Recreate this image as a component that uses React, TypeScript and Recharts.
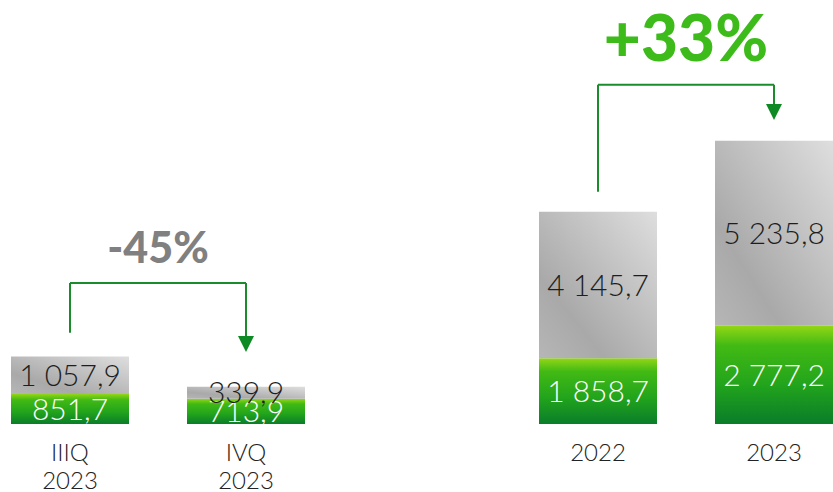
import { BarChart, Bar, XAxis, YAxis, LabelList, ReferenceLine, ReferenceDot, Label } from 'recharts';

// periods (blank entry = gap between quarterly and annual groups)
const periods = ['IIIQ 2023', 'IVQ 2023', ' ', '2022', '2023'];
const greenValues = [851.7, 713.9, null, 1858.7, 2777.2];
const grayValues = [1057.9, 339.9, null, 4145.7, 5235.8];

// change annotations
const quarterChange = '-45%';
const yearChange = '+33%';
// annotation bracket heights, in value units
const qBracket = { start: 2580, top: 3990, end: 2460 };
const yBracket = { start: 6570, top: 9600, end: 9030 };

const data = periods.map((p, i) => ({ period: p, green: greenValues[i], gray: grayValues[i] }));

const fmt = (v: any) => {
  if (v == null) return '';
  const [int, dec] = Number(v).toFixed(1).split('.');
  return int.replace(/\B(?=(\d{3})+(?!\d))/g, ' ') + ',' + dec;
};

const FONT = 'Lato, "Open Sans", sans-serif';
const ARROW = '#1a8c2c';

function PeriodTick({ x, y, payload }: any) {
  const parts = String(payload.value).trim().split(' ');
  if (!parts[0]) return null;
  return (
    <text x={x} y={y} textAnchor="middle" fontFamily={FONT} fontWeight={300} fontSize={24} fill="#222">
      {parts.map((t, i) => (
        <tspan key={i} x={x} dy={i === 0 ? 29 : 28}>{t}</tspan>
      ))}
    </text>
  );
}

function ArrowHead({ cx, cy }: any) {
  return <path d={`M${cx - 8},${cy - 1} L${cx + 8},${cy - 1} L${cx},${cy + 15} Z`} fill="#0e8a25" />;
}

export default function App() {
  return (
    <div style={{ position: 'absolute', left: 0, top: 0, width: 833, height: 492, overflow: 'hidden', background: '#fff' }}>
      <div style={{ position: 'absolute', left: -18, top: 0 }}>
        <BarChart width={880} height={492} data={data} margin={{ top: 0, right: 0, bottom: 0, left: 0 }}>
          <defs>
            <linearGradient id="greenFill" x1="0" y1="0" x2="0" y2="1">
              <stop offset="0%" stopColor="#93d616" />
              <stop offset="20%" stopColor="#42ba14" />
              <stop offset="60%" stopColor="#22a41c" />
              <stop offset="100%" stopColor="#0a7d2a" />
            </linearGradient>
            <linearGradient id="grayFill" x1="1" y1="0" x2="0" y2="1">
              <stop offset="0%" stopColor="#dedede" />
              <stop offset="72%" stopColor="#a9a9a9" />
              <stop offset="100%" stopColor="#b6b6b6" />
            </linearGradient>
          </defs>
          <XAxis dataKey="period" axisLine={false} tickLine={false} height={68} interval={0} tick={<PeriodTick />} />
          <YAxis hide domain={[0, 12000]} />
          <Bar dataKey="green" stackId="a" fill="url(#greenFill)" barSize={118} isAnimationActive={false}>
            <LabelList dataKey="green" position="center" formatter={fmt} fill="#fff" fontFamily={FONT} fontWeight={300} fontSize={30} />
          </Bar>
          <Bar dataKey="gray" stackId="a" fill="url(#grayFill)" barSize={118} isAnimationActive={false}>
            <LabelList dataKey="gray" position="center" formatter={fmt} fill="#1e1e1e" fontFamily={FONT} fontWeight={300} fontSize={30} />
          </Bar>

          {/* quarter bracket */}
          <ReferenceLine segment={[{ x: periods[0], y: qBracket.start }, { x: periods[0], y: qBracket.top }]} stroke={ARROW} strokeWidth={2} />
          <ReferenceLine segment={[{ x: periods[0], y: qBracket.top }, { x: periods[1], y: qBracket.top }]} stroke={ARROW} strokeWidth={2}>
            <Label value={quarterChange} position="top" offset={20} fill="#808080" fontFamily={FONT} fontWeight={900} fontSize={43} />
          </ReferenceLine>
          <ReferenceLine segment={[{ x: periods[1], y: qBracket.top }, { x: periods[1], y: qBracket.end }]} stroke={ARROW} strokeWidth={2} />
          <ReferenceDot x={periods[1]} y={qBracket.end} shape={<ArrowHead />} />

          {/* annual bracket */}
          <ReferenceLine segment={[{ x: periods[3], y: yBracket.start }, { x: periods[3], y: yBracket.top }]} stroke={ARROW} strokeWidth={2} />
          <ReferenceLine segment={[{ x: periods[3], y: yBracket.top }, { x: periods[4], y: yBracket.top }]} stroke={ARROW} strokeWidth={2}>
            <Label value={yearChange} position="top" offset={24} fill="#3dbb1a" fontFamily={FONT} fontWeight={900} fontSize={64} />
          </ReferenceLine>
          <ReferenceLine segment={[{ x: periods[4], y: yBracket.top }, { x: periods[4], y: yBracket.end }]} stroke={ARROW} strokeWidth={2} />
          <ReferenceDot x={periods[4]} y={yBracket.end} shape={<ArrowHead />} />
        </BarChart>
      </div>
    </div>
  );
}
